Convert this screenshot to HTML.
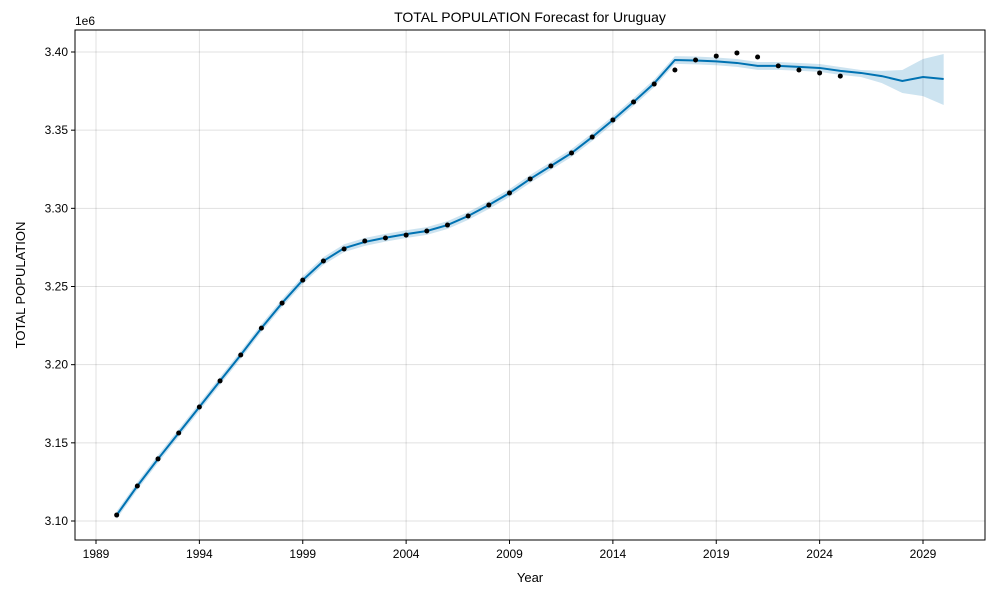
<!DOCTYPE html>
<html><head><meta charset="utf-8"><style>
body{margin:0;background:#fff;font-family:"Liberation Sans",sans-serif}
svg text{font-family:"Liberation Sans",sans-serif;fill:#000}
</style></head><body>
<svg id="chart" width="1000" height="600">
<text x="530" y="22" text-anchor="middle" font-size="14">TOTAL POPULATION Forecast for Uruguay</text>
<text x="75" y="25" font-size="12">1e6</text>
<text x="530" y="582" text-anchor="middle" font-size="13">Year</text>
<text x="25" y="285" text-anchor="middle" font-size="13" transform="rotate(-90 25 285)">TOTAL POPULATION</text>
<g id="grid"></g><g id="band"></g><g id="line"></g><g id="pts"></g><g id="axes"></g>
</svg>
<script>
const obsYears=[1990,1991,1992,1993,1994,1995,1996,1997,1998,1999,2000,2001,2002,2003,2004,2005,2006,2007,2008,2009,2010,2011,2012,2013,2014,2015,2016,2017,2018,2019,2020,2021,2022,2023,2024,2025];
const obsVals=[3.1038,3.1224,3.1397,3.1563,3.1729,3.1896,3.2062,3.2234,3.2394,3.2541,3.2663,3.2740,3.2791,3.2810,3.2829,3.2855,3.2893,3.2951,3.3021,3.3098,3.3188,3.3271,3.3354,3.3456,3.3565,3.3680,3.3795,3.3885,3.3949,3.3974,3.3994,3.3968,3.3911,3.3885,3.3866,3.3846];
const fcYears=[1990,1991,1992,1993,1994,1995,1996,1997,1998,1999,2000,2001,2002,2003,2004,2005,2006,2007,2008,2009,2010,2011,2012,2013,2014,2015,2016,2017,2018,2019,2020,2021,2022,2023,2024,2025,2026,2027,2028,2029,2030];
const fcVals=[3.1038,3.1224,3.1397,3.1563,3.1729,3.1896,3.2062,3.2234,3.2394,3.2541,3.2663,3.2745,3.2785,3.2812,3.2835,3.2855,3.2893,3.2951,3.3021,3.3098,3.3188,3.3271,3.3354,3.3456,3.3565,3.3680,3.3800,3.3949,3.3946,3.3940,3.3930,3.3911,3.3911,3.3905,3.3898,3.3879,3.3866,3.3846,3.3815,3.3840,3.3827];
const fcUpper=[3.1063,3.1249,3.1422,3.1588,3.1754,3.1921,3.2087,3.2259,3.2419,3.2566,3.2688,3.2770,3.2810,3.2837,3.2860,3.2880,3.2918,3.2976,3.3046,3.3123,3.3213,3.3296,3.3379,3.3481,3.3590,3.3705,3.3825,3.3974,3.3971,3.3965,3.3955,3.3936,3.3936,3.3930,3.3923,3.3904,3.3885,3.3879,3.3885,3.3955,3.3987];
const fcLower=[3.1013,3.1199,3.1372,3.1538,3.1704,3.1871,3.2037,3.2209,3.2369,3.2516,3.2638,3.2720,3.2760,3.2787,3.2810,3.2830,3.2868,3.2926,3.2996,3.3073,3.3163,3.3246,3.3329,3.3431,3.3540,3.3655,3.3775,3.3924,3.3921,3.3915,3.3905,3.3886,3.3886,3.3880,3.3873,3.3854,3.3840,3.3802,3.3738,3.3718,3.3661];
const xTicks=[1989,1994,1999,2004,2009,2014,2019,2024,2029];
const yTicks=[3.10,3.15,3.20,3.25,3.30,3.35,3.40];

const L=75,R=985,T=30,B=540;
const x=v=>96+(v-1989)*20.675;
const y=v=>521-(v-3.10)/0.30*469;
const NS="http://www.w3.org/2000/svg";
function mk(tag,parent,attrs){const e=document.createElementNS(NS,tag);for(const k in attrs)e.setAttribute(k,attrs[k]);document.getElementById(parent).appendChild(e);return e;}

xTicks.forEach(t=>{
  const g=mk('line','grid',{x1:x(t),x2:x(t),y1:T,y2:B,stroke:'#000','stroke-opacity':0.12,'stroke-width':1});
  
  
  mk('line','axes',{x1:x(t),x2:x(t),y1:B,y2:B+4,stroke:'#000'});
  const tx=mk('text','axes',{x:x(t),y:B+18,'text-anchor':'middle','font-size':12});
  tx.textContent=t;
  
  
});
yTicks.forEach(t=>{
  const g=mk('line','grid',{x1:L,x2:R,y1:y(t),y2:y(t),stroke:'#000','stroke-opacity':0.12,'stroke-width':1});
  
  
  mk('line','axes',{x1:L-4,x2:L,y1:y(t),y2:y(t),stroke:'#000'});
  const tx=mk('text','axes',{x:L-7,y:y(t)+4,'text-anchor':'end','font-size':12});
  tx.textContent=t.toFixed(2);
  
  
});
let d='M'+fcYears.map((yr,i)=>x(yr)+','+y(fcUpper[i])).join('L');
for(let i=fcYears.length-1;i>=0;i--)d+='L'+x(fcYears[i])+','+y(fcLower[i]);
const band=mk('path','band',{d:d+'Z',fill:'#0072B2','fill-opacity':0.2});


const ln=mk('polyline','line',{points:fcYears.map((yr,i)=>x(yr)+','+y(fcVals[i])).join(' '),fill:'none',stroke:'#0072B2','stroke-width':2});


obsYears.forEach((yr,i)=>{
  const c=mk('circle','pts',{cx:x(yr),cy:y(obsVals[i]),r:2.5,fill:'#000'});
  
  
});
const fr=mk('rect','axes',{x:L,y:T,width:R-L,height:B-T,fill:'none',stroke:'#000','stroke-width':1});


</script>
</body></html>
